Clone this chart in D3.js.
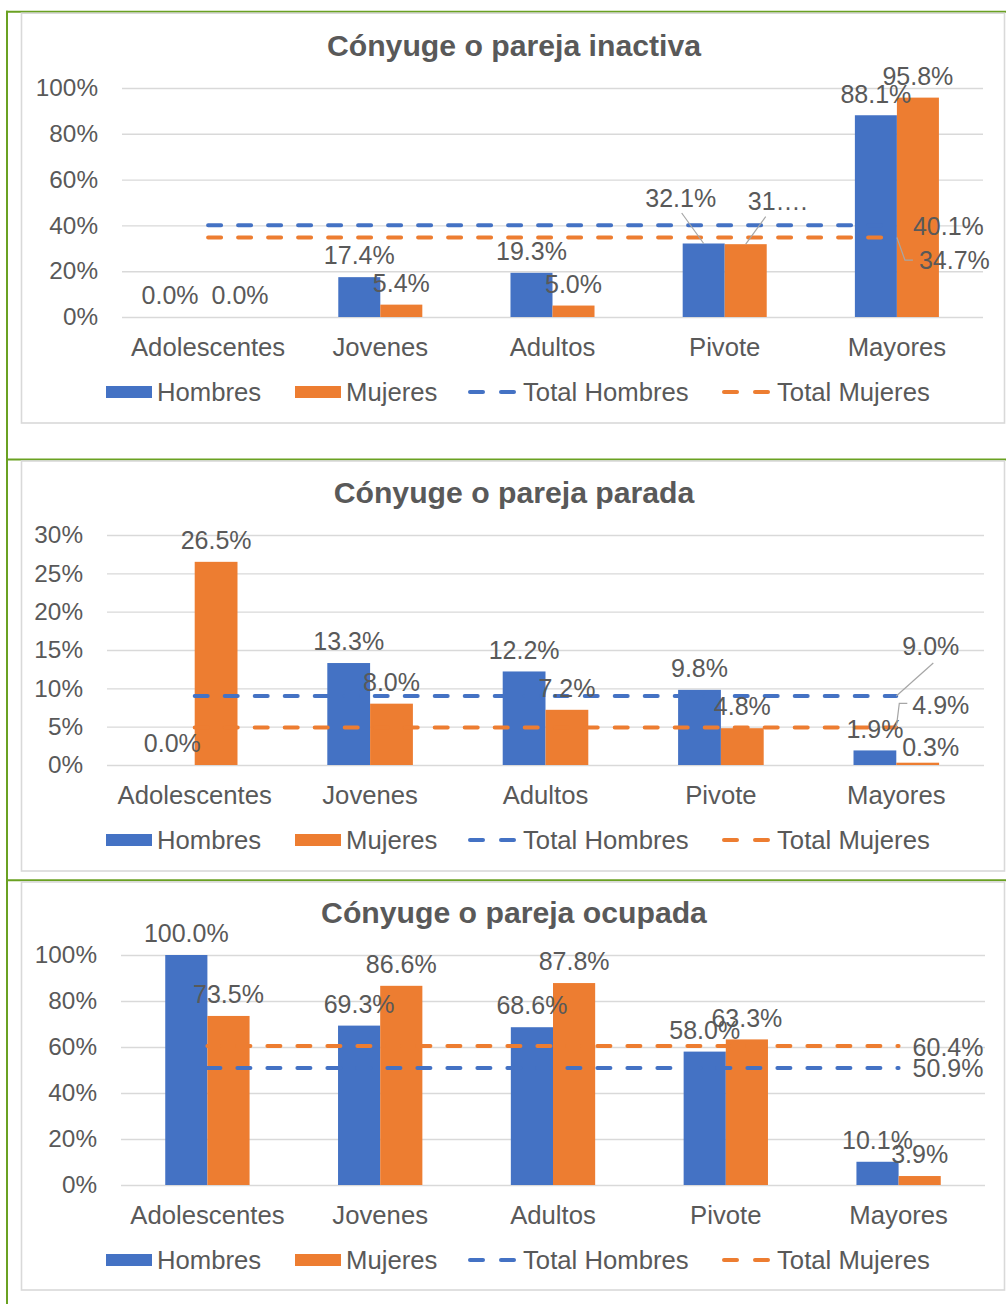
<!DOCTYPE html>
<html><head><meta charset="utf-8">
<script src="https://cdn.jsdelivr.net/npm/d3@7"></script>
<style>
body{margin:0;background:#fff;}
text{font-family:"Liberation Sans",Arial,sans-serif;fill:#595959;}
</style></head>
<body><svg id="chart" width="1006" height="1304"></svg>
<script>
// ---------- DATA ----------
const categories = ["Adolescentes", "Jovenes", "Adultos", "Pivote", "Mayores"];
const seriesNames = ["Hombres", "Mujeres", "Total Hombres", "Total Mujeres"];
const titles = ["Cónyuge o pareja inactiva", "Cónyuge o pareja parada", "Cónyuge o pareja ocupada"];

const inactivaHombres = [0.0, 17.4, 19.3, 32.1, 88.1];
const inactivaMujeres = [0.0, 5.4, 5.0, 31.8, 95.8];
const inactivaTotalHombres = 40.1;
const inactivaTotalMujeres = 34.7;

const paradaHombres = [0.0, 13.3, 12.2, 9.8, 1.9];
const paradaMujeres = [26.5, 8.0, 7.2, 4.8, 0.3];
const paradaTotalHombres = 9.0;
const paradaTotalMujeres = 4.9;

const ocupadaHombres = [100.0, 69.3, 68.6, 58.0, 10.1];
const ocupadaMujeres = [73.5, 86.6, 87.8, 63.3, 3.9];
const ocupadaTotalHombres = 50.9;
const ocupadaTotalMujeres = 60.4;

const ticksPct100 = [0, 20, 40, 60, 80, 100];
const ticksPct30 = [0, 5, 10, 15, 20, 25, 30];
// label text that appears truncated in the original (panel-series-category)
const truncatedLabels = {"0-1-3": "31…."};

// ---------- STYLE / LAYOUT ----------
const BLUE = "#4472C4", ORANGE = "#ED7D31", GREEN = "#6aa122", GRID = "#d9d9d9", TXT = "#595959";
const FONT = '"Liberation Sans",Arial,sans-serif';
const LABEL_SIZE = 25;
const svg = d3.select("#chart");
const legendX = [106, 295, 468, 722];

const panels = [
  {title: titles[0], hom: inactivaHombres, muj: inactivaMujeres, th: inactivaTotalHombres, tm: inactivaTotalMujeres,
   ticks: ticksPct100, max: 100, box: [13.2, 423], x0: 122, x1: 983, yTop: 88, yBot: 317, titleY: 46,
   lab: {
     "0-0": {dx: -17}, "1-0": {dx: 11},
     "0-3": {dx: -23, dy: -24, leader: [1, 15]},
     "1-3": {dx: 32, dy: -21, leader: [-12, 15]}
   },
   tot: {
     th: {dx: 16, dy: 1.5},
     tm: {dx: 22, dy: 22.5, leader: [[0, 0], [8, 22.5], [16, 22.5]]}
   }},
  {title: titles[1], hom: paradaHombres, muj: paradaMujeres, th: paradaTotalHombres, tm: paradaTotalMujeres,
   ticks: ticksPct30, max: 30, box: [461, 871], x0: 107, x1: 984, yTop: 535, yBot: 765, titleY: 493,
   lab: {
     "0-0": {dx: -1},
     "1-4": {dx: 13, dy: 6}
   },
   tot: {
     th: {dx: 6, dy: -50, leader: [[0, 0], [37, -33]]},
     tm: {dx: 16, dy: -22, leader: [[0, 0], [3, -24], [11, -24]]}
   }},
  {title: titles[2], hom: ocupadaHombres, muj: ocupadaMujeres, th: ocupadaTotalHombres, tm: ocupadaTotalMujeres,
   ticks: ticksPct100, max: 100, box: [882, 1290], x0: 121, x1: 985, yTop: 955, yBot: 1185, titleY: 913,
   lab: {},
   tot: {th: {dx: 14, dy: 0}, tm: {dx: 14, dy: 1}}}
];

// green decorative frame lines
svg.append("line").attr("x1", 7).attr("x2", 7).attr("y1", 10.7).attr("y2", 1304).attr("stroke", GREEN).attr("stroke-width", 2);
[11.7, 459.6, 880.2].forEach(y => svg.append("line").attr("x1", 6).attr("x2", 1006).attr("y1", y).attr("y2", y)
  .attr("stroke", GREEN).attr("stroke-width", 2));

panels.forEach((p, pi) => {
  const g = svg.append("g");
  // panel border
  g.append("rect").attr("x", 21.5).attr("y", p.box[0]).attr("width", 983).attr("height", p.box[1] - p.box[0])
    .attr("fill", "#fff").attr("stroke", "#d9d9d9").attr("stroke-width", 1.6);

  const x = d3.scaleBand().domain(categories).range([p.x0, p.x1]).paddingInner(0).paddingOuter(0);
  const y = d3.scaleLinear().domain([0, p.max]).range([p.yBot, p.yTop]);
  const groupW = x.bandwidth() * 0.488;
  const xs = d3.scaleBand().domain(["Hombres", "Mujeres"]).range([0, groupW]);
  const cx = c => x(c) + x.bandwidth() / 2;

  // title
  g.append("text").attr("x", 514).attr("y", p.titleY - 0.5).attr("dy", "0.35em").attr("text-anchor", "middle")
    .attr("font-size", 30.2).attr("font-weight", "bold").text(p.title);

  // gridlines + y tick labels
  const yAxis = d3.axisLeft(y).tickValues(p.ticks).tickSize(-(p.x1 - p.x0)).tickFormat(d => d + "%").tickPadding(24);
  const ya = g.append("g").attr("transform", `translate(${p.x0},0)`).call(yAxis);
  ya.select(".domain").remove();
  ya.selectAll(".tick line").attr("stroke", GRID).attr("stroke-width", 1.4);
  ya.selectAll(".tick text").attr("font-size", 24.3).attr("fill", TXT).attr("x", -24).style("font-family", FONT);

  // category axis labels
  const xAxis = d3.axisBottom(x).tickSize(0).tickPadding(0);
  const xa = g.append("g").attr("transform", `translate(0,${p.yBot})`).call(xAxis);
  xa.select(".domain").remove();
  xa.selectAll(".tick text").attr("font-size", 25.7).attr("fill", TXT).attr("y", 30).attr("dy", "0.35em")
    .style("font-family", FONT);

  // bars
  const series = [{name: "Hombres", vals: p.hom, color: BLUE}, {name: "Mujeres", vals: p.muj, color: ORANGE}];
  series.forEach(s => {
    g.selectAll(null).data(categories).enter().append("rect")
      .attr("x", c => x(c) + x.bandwidth() / 2 - groupW / 2 + xs(s.name))
      .attr("width", xs.bandwidth())
      .attr("y", (c, i) => y(s.vals[i]))
      .attr("height", (c, i) => p.yBot - y(s.vals[i]))
      .attr("fill", s.color);
  });

  // total lines (from first to last category centre)
  const lineGen = d3.line().x(d => cx(d.c)).y(d => y(d.v));
  const totals = [{key: "th", v: p.th, color: BLUE}, {key: "tm", v: p.tm, color: ORANGE}];
  totals.forEach(t => {
    g.append("path").datum(categories.map(c => ({c, v: t.v})))
      .attr("d", lineGen).attr("fill", "none").attr("stroke", t.color).attr("stroke-width", 4)
      .attr("stroke-linecap", "round").attr("stroke-dasharray", "13,17");
  });

  // bar data labels
  series.forEach((s, si) => {
    categories.forEach((c, i) => {
      const key = si + "-" + i;
      const o = p.lab[key] || {};
      const bx = x(c) + x.bandwidth() / 2 - groupW / 2 + xs(s.name) + xs.bandwidth() / 2;
      const by = y(s.vals[i]);
      const lx = bx + (o.dx || 0), ly = by - 21.5 + (o.dy || 0);
      if (o.leader) {
        g.append("line").attr("x1", lx + o.leader[0]).attr("y1", ly + o.leader[1]).attr("x2", bx).attr("y2", by)
          .attr("stroke", "#a6a6a6").attr("stroke-width", 1.2);
      }
      const txt = truncatedLabels[pi + "-" + key] || (s.vals[i].toFixed(1) + "%");
      g.append("text").attr("x", lx).attr("y", ly).attr("dy", "0.35em").attr("text-anchor", "middle")
        .attr("font-size", LABEL_SIZE).text(txt);
    });
  });

  // total line end labels
  totals.forEach(t => {
    const o = p.tot[t.key];
    const ex = cx(categories[categories.length - 1]), ey = y(t.v);
    if (o.leader) {
      g.append("polyline").attr("points", o.leader.map(q => [ex + q[0], ey + q[1]].join(",")).join(" "))
        .attr("fill", "none").attr("stroke", "#a6a6a6").attr("stroke-width", 1.2);
    }
    g.append("text").attr("x", ex + o.dx).attr("y", ey + o.dy).attr("dy", "0.35em").attr("text-anchor", "start")
      .attr("font-size", LABEL_SIZE).text(t.v.toFixed(1) + "%");
  });

  // legend
  const ly = p.yBot + 75;
  const lg = g.append("g");
  seriesNames.forEach((n, k) => {
    const lx = legendX[k];
    const col = (k % 2 === 0) ? BLUE : ORANGE;
    if (k < 2) {
      lg.append("rect").attr("x", lx).attr("y", ly - 6).attr("width", 46).attr("height", 12).attr("fill", col);
    } else {
      [[lx + 2, lx + 15], [lx + 33, lx + 46]].forEach(sg => lg.append("line").attr("x1", sg[0]).attr("x2", sg[1])
        .attr("y1", ly).attr("y2", ly).attr("stroke", col).attr("stroke-width", 4).attr("stroke-linecap", "round"));
    }
    const tx = lx + (k < 2 ? 51 : 55);
    lg.append("text").attr("x", tx).attr("y", ly).attr("dy", "0.35em").attr("font-size", 25.7).text(n);
  });
});
</script></body></html>
